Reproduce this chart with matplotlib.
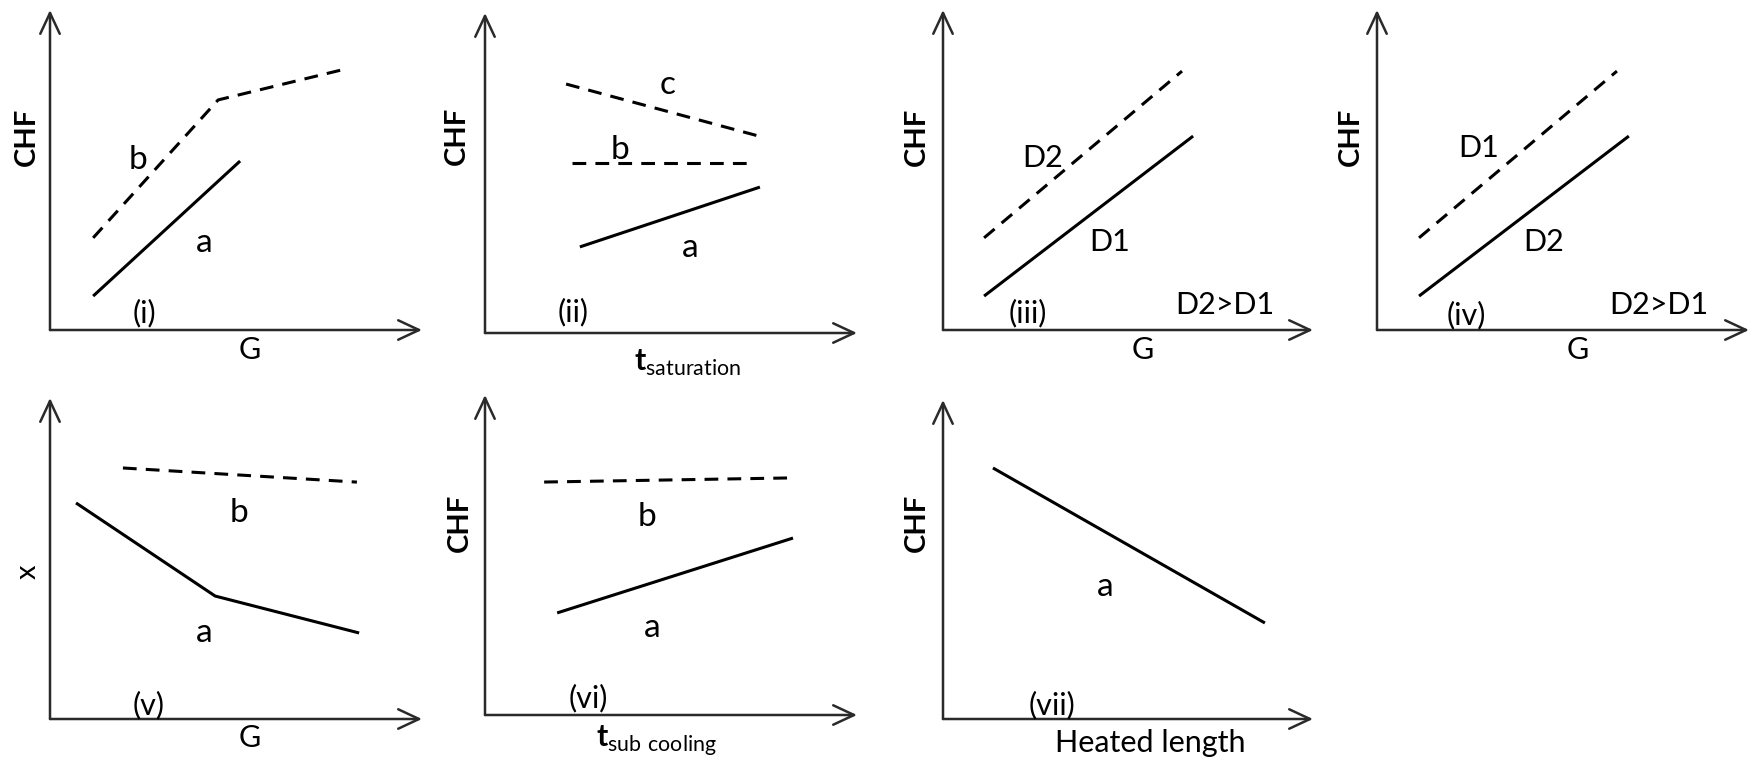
import matplotlib.pyplot as plt

plt.rcParams['font.family'] = ['Lato', 'DejaVu Sans']
plt.rcParams['mathtext.fontset'] = 'custom'
plt.rcParams['mathtext.rm'] = 'Lato'
plt.rcParams['mathtext.bf'] = 'Lato:bold'

# --- curves, in axis units (both axes run 0..10 up to the arrow tips) ---
# (i) CHF vs G
i_a_x = [1.16, 5.11]
i_a_y = [1.06, 5.28]
i_b_x = [1.16, 4.52, 7.85]
i_b_y = [2.88, 7.19, 8.13]

# (ii) CHF vs t_saturation
ii_a_x = [2.55, 7.39]
ii_a_y = [2.69, 4.56]
ii_b_x = [2.34, 7.20]
ii_b_y = [5.31, 5.31]
ii_c_x = [2.18, 7.34]
ii_c_y = [7.78, 6.16]

# (iii) CHF vs G, two diameters
iii_d1_x = [1.11, 6.76]
iii_d1_y = [1.06, 6.06]
iii_d2_x = [1.11, 6.46]
iii_d2_y = [2.88, 8.09]

# (iv) CHF vs G, two diameters
iv_d2_x = [1.13, 6.77]
iv_d2_y = [1.06, 6.06]
iv_d1_x = [1.13, 6.45]
iv_d1_y = [2.88, 8.09]

# (v) x vs G
v_a_x = [0.70, 4.44, 8.31]
v_a_y = [6.73, 3.83, 2.68]
v_b_x = [1.96, 8.25]
v_b_y = [7.82, 7.38]

# (vi) CHF vs t_sub cooling
vi_a_x = [1.94, 8.28]
vi_a_y = [3.19, 5.53]
vi_b_x = [1.59, 8.28]
vi_b_y = [7.28, 7.41]

# (vii) CHF vs heated length
vii_a_x = [1.35, 8.70]
vii_a_y = [7.87, 3.01]

W, H = 1756, 765
fig = plt.figure(figsize=(W / 100, H / 100), dpi=100)

FS = 22      # axis names, D labels, panel numbers
FS_AB = 24   # curve letters


def panel(ox, oy, tipx, top):
    # origin and arrow tips given in pixels of the canvas
    ax = fig.add_axes([ox / W, (H - oy) / H, (tipx - ox) / W, (oy - top) / H])
    ax.set_xlim(0, 10)
    ax.set_ylim(0, 10)
    ax.axis('off')
    arrow = dict(arrowstyle='->,head_length=0.75,head_width=0.35',
                 lw=1.8, color='#2a2a2a', mutation_scale=20,
                 shrinkA=0, shrinkB=0)
    ax.annotate('', xy=(10, 0), xytext=(0, 0), arrowprops=arrow,
                annotation_clip=False)
    ax.annotate('', xy=(0, 10), xytext=(0, 0), arrowprops=arrow,
                annotation_clip=False)
    return ax


def solid(ax, x, y):
    ax.plot(x, y, color='black', lw=2.2, solid_capstyle='butt', clip_on=False)


def dashed(ax, x, y):
    ax.plot(x, y, color='black', lw=2.2, dashes=(4.5, 3), clip_on=False)


def label(ax, x, y, s, size=FS, **kw):
    ax.text(x, y, s, fontsize=size, ha='center', va='center', clip_on=False, **kw)


def ylab(ax, x, y, s, weight='bold'):
    ax.text(x, y, s, fontsize=21, rotation=90, ha='center', va='center',
            fontweight=weight)


# (i)
ax = panel(50, 330, 422, 10)
dashed(ax, i_b_x, i_b_y)
solid(ax, i_a_x, i_a_y)
label(ax, 2.37, 5.31, 'b', FS_AB)
label(ax, 4.14, 2.72, 'a', FS_AB)
label(ax, 2.53, 0.53, '(i)')
label(ax, 5.38, -0.63, 'G')
ylab(ax, -0.62, 6.03, 'CHF')

# (ii)
ax = panel(485, 333, 857, 13)
dashed(ax, ii_c_x, ii_c_y)
dashed(ax, ii_b_x, ii_b_y)
solid(ax, ii_a_x, ii_a_y)
label(ax, 4.92, 7.75, 'c', FS_AB)
label(ax, 3.63, 5.72, 'b', FS_AB)
label(ax, 5.51, 2.66, 'a', FS_AB)
label(ax, 2.37, 0.66, '(ii)')
label(ax, 5.45, -0.95, r'$\mathbf{t}_{\mathrm{saturation}}$')
ylab(ax, -0.75, 6.15, 'CHF')

# (iii)
ax = panel(943, 330, 1313, 10)
dashed(ax, iii_d2_x, iii_d2_y)
solid(ax, iii_d1_x, iii_d1_y)
label(ax, 2.70, 5.38, 'D2')
label(ax, 4.51, 2.75, 'D1')
label(ax, 2.30, 0.53, '(iii)')
label(ax, 7.62, 0.78, 'D2>D1')
label(ax, 5.41, -0.63, 'G')
ylab(ax, -0.70, 6.03, 'CHF')

# (iv)
ax = panel(1377, 330, 1749, 10)
dashed(ax, iv_d1_x, iv_d1_y)
solid(ax, iv_d2_x, iv_d2_y)
label(ax, 2.72, 5.69, 'D1')
label(ax, 4.49, 2.75, 'D2')
label(ax, 2.39, 0.47, '(iv)')
label(ax, 7.58, 0.78, 'D2>D1')
label(ax, 5.40, -0.63, 'G')
ylab(ax, -0.70, 6.03, 'CHF')

# (v)
ax = panel(50, 719, 422, 398)
dashed(ax, v_b_x, v_b_y)
solid(ax, v_a_x, v_a_y)
label(ax, 5.08, 6.42, 'b', FS_AB)
label(ax, 4.14, 2.68, 'a', FS_AB)
label(ax, 2.66, 0.44, '(v)')
label(ax, 5.38, -0.59, 'G')
ylab(ax, -0.59, 4.58, 'x', weight='normal')

# (vi)
ax = panel(485, 715, 857, 395)
dashed(ax, vi_b_x, vi_b_y)
solid(ax, vi_a_x, vi_a_y)
label(ax, 4.35, 6.19, 'b', FS_AB)
label(ax, 4.49, 2.72, 'a', FS_AB)
label(ax, 2.77, 0.53, '(vi)')
label(ax, 4.62, -0.80, r'$\mathbf{t}_{\mathrm{sub\ cooling}}$')
ylab(ax, -0.67, 6.00, 'CHF')

# (vii)
ax = panel(943, 719, 1313, 400)
solid(ax, vii_a_x, vii_a_y)
label(ax, 4.38, 4.14, 'a', FS_AB)
label(ax, 2.95, 0.44, '(vii)')
label(ax, 5.60, -0.75, 'Heated length')
ylab(ax, -0.70, 6.14, 'CHF')

fig.savefig('out.png', dpi=100, facecolor='white')
